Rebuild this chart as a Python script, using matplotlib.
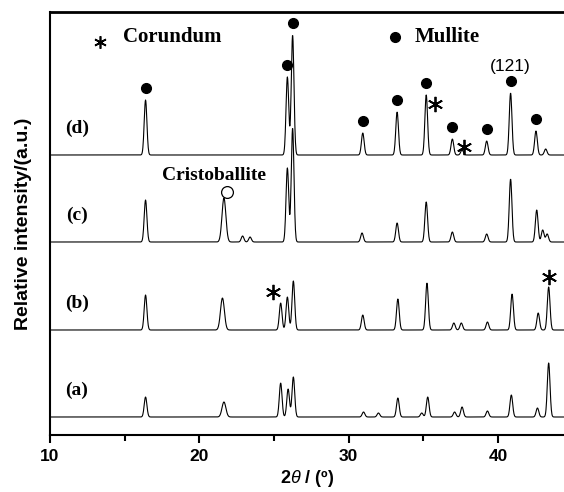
import numpy as np
import matplotlib.pyplot as plt

plt.rcParams['font.family'] = ['Liberation Sans', 'DejaVu Sans']
plt.rcParams['mathtext.fontset'] = 'custom'
plt.rcParams['mathtext.it'] = 'Liberation Sans:italic'

# XRD reflections: 2theta (deg) and peak height (a.u.)
peaks_a = [16.4, 21.65, 25.45, 25.95, 26.3, 31.0, 32.0, 33.3, 34.9, 35.3,
           37.1, 37.6, 39.3, 40.9, 42.65, 43.4]
heights_a = [20, 15, 34, 28, 40, 5, 4, 19, 4, 20, 5, 10, 6, 22, 9, 54]

peaks_b = [16.4, 21.55, 25.45, 25.9, 26.3, 30.95, 33.3, 35.25, 37.05, 37.55,
           39.3, 40.95, 42.7, 43.4]
heights_b = [35, 32, 27, 33, 49, 15, 31, 47, 7, 7, 8, 36, 17, 43]

peaks_c = [16.4, 21.65, 22.9, 23.4, 25.9, 26.25, 30.9, 33.25, 35.2, 36.95,
           39.25, 40.85, 42.6, 43.0, 43.3]
heights_c = [42, 44, 6, 5, 74, 114, 9, 19, 40, 10, 8, 63, 32, 12, 8]

peaks_d = [16.4, 25.9, 26.25, 30.95, 33.25, 35.2, 36.95, 37.6, 39.25, 40.85,
           42.55, 43.2]
heights_d = [55, 78, 120, 22, 43, 60, 16, 5, 14, 62, 24, 6]

samples = ['(a)', '(b)', '(c)', '(d)']
cristobalite_range = (21.0, 22.0)   # broader reflections

# mullite reflections marked on (d)
mullite_d = [16.4, 25.9, 26.25, 30.95, 33.25, 35.2, 36.95, 39.25, 40.85, 42.55]

offsets = [18, 105, 193, 280]   # vertical stacking of patterns

two_theta = np.arange(10, 44.5, 0.02)


def pattern(pos, hts):
    y = np.zeros_like(two_theta)
    for p, h in zip(pos, hts):
        w = 0.13 if cristobalite_range[0] < p < cristobalite_range[1] else 0.09
        y += h * np.exp(-0.5 * ((two_theta - p) / w) ** 2)
    return y


fig = plt.figure(figsize=(5.64, 4.92), dpi=100)
ax = fig.add_axes([50 / 564, 1 - 435 / 492, 514 / 564, 423 / 492])

for pos, hts, off, lab in zip([peaks_a, peaks_b, peaks_c, peaks_d],
                              [heights_a, heights_b, heights_c, heights_d],
                              offsets, samples):
    y = pattern(pos, hts) + off
    ax.plot(two_theta, y, color='black', lw=0.8)
    ax.text(11.8, off + 27, lab, family='Liberation Serif', fontweight='bold',
            fontsize=14, ha='center', va='center')

# mullite dots on (d)
for p in mullite_d:
    top = offsets[3] + heights_d[peaks_d.index(p)]
    ax.plot(p, top + 12, 'o', color='black', ms=7)

ax.text(40.85, offsets[3] + 62 + 27, '(121)', fontsize=12.5, ha='center', va='center')

# corundum stars
star = dict(marker=(6, 2, 0), color='black', ms=11, mew=1.3, ls='none')
ax.plot(35.8, offsets[3] + 51, **star)
ax.plot(37.7, offsets[3] + 8, **star)
ax.plot(24.95, offsets[1] + 38, **star)
ax.plot(43.4, offsets[1] + 53, **star)

# cristobalite
ax.plot(21.85, offsets[2] + 50, 'o', mfc='white', mec='black', ms=8.5, mew=0.9)
ax.text(21.0, 260, 'Cristoballite', family='Liberation Serif', fontweight='bold',
        fontsize=14, ha='center', va='center')

# key
ax.plot(13.35, 393, marker=(6, 2, 0), color='black', ms=9, mew=1.2)
ax.text(14.9, 398, 'Corundum', family='Liberation Serif', fontweight='bold',
        fontsize=15, ha='left', va='center')
ax.plot(33.1, 398, 'o', color='black', ms=7)
ax.text(34.45, 398, 'Mullite', family='Liberation Serif', fontweight='bold',
        fontsize=15, ha='left', va='center')

ax.set_xlim(10, 10 + 514 / 14.93)
ax.set_ylim(0, 423)
ax.set_yticks([])
ax.set_xticks([10, 20, 30, 40])
ax.set_xticks([15, 25, 35], minor=True)
ax.tick_params(axis='x', which='major', length=6, width=1.5, labelsize=12.5, pad=4)
ax.tick_params(axis='x', which='minor', length=4, width=1.5)
for t in ax.get_xticklabels():
    t.set_fontweight('bold')
ax.spines['right'].set_visible(False)
for s in ['left', 'bottom']:
    ax.spines[s].set_linewidth(1.5)
ax.spines['top'].set_linewidth(2)

ax.set_xlabel(r'2$\theta$ / (º)', fontsize=13, fontweight='bold', labelpad=3)
ax.set_ylabel('Relative intensity/(a.u.)', fontsize=14, fontweight='bold', labelpad=13)

fig.savefig('out.png', dpi=100)
